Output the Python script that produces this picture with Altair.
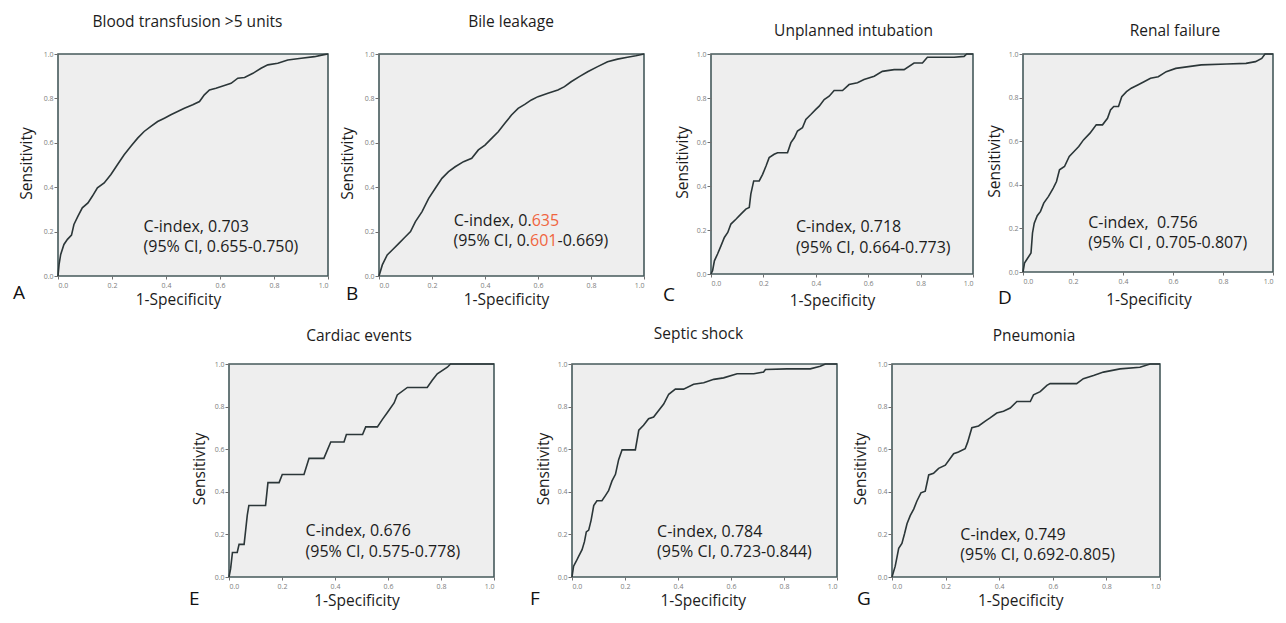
import altair as alt
import pandas as pd

FONT = "Open Sans"
INK = "#1c1c1c"
RED = "#F0653F"
LINE = "#2b3638"
FRAME = "#45595b"
PANEL = "#EEEEEE"
TICKS = [0.0, 0.2, 0.4, 0.6, 0.8, 1.0]

# ---------------- data ----------------
A_FPR = [0, .004, .01, .022, .035, .05, .059, .074, .09, .111, .127, .146, .171, .196, .22, .245, .27, .295, .319, .344,
         .369, .394, .418, .443, .468, .499, .524, .542, .561, .585, .616, .641, .666, .691, .722, .752, .777, .814, .851, .901,
         .95, .981, 1]
A_TPR = [0, .052, .097, .142, .165, .184, .232, .27, .307, .329, .359, .397, .419, .457, .501, .546, .584, .621, .651, .674,
         .696, .711, .726, .741, .756, .771, .786, .816, .838, .846, .858, .868, .891, .894, .913, .936, .951, .958, .973, .981,
         .988, .996, 1]

B_FPR = [0, .0125, .031, .05, .075, .094, .119, .1375, .1625, .1875, .2125, .2375, .2625, .2875, .319, .35, .375, .4, .425, .45,
         .475, .5, .525, .55, .575, .6, .6375, .675, .7, .725, .756, .7875, .825, .8625, .9, .9375, .969, 1]
B_TPR = [0, .05, .095, .117, .147, .17, .2, .245, .29, .35, .395, .44, .47, .492, .515, .53, .568, .59, .62, .65,
         .688, .725, .755, .773, .793, .808, .823, .838, .853, .875, .898, .92, .943, .965, .977, .985, .992, 1]

C_FPR = [0, .006, .013, .025, .038, .051, .064, .076, .095, .114, .133, .146, .152, .163, .184, .197, .21, .222, .241, .254,
         .292, .305, .318, .33, .349, .362, .381, .4, .413, .432, .451, .47, .502, .527, .559, .584, .623, .654, .699, .737,
         .775, .807, .826, .928, .966, .976, 1]
C_TPR = [0, .015, .06, .091, .128, .166, .189, .227, .249, .272, .295, .302, .363, .423, .423, .453, .491, .529, .544, .551,
         .551, .597, .619, .65, .665, .703, .725, .748, .763, .793, .808, .834, .834, .861, .869, .884, .899, .921, .929, .929,
         .959, .959, .985, .985, .989, 1, 1]

D_FPR = [0, .006, .019, .032, .038, .045, .057, .07, .083, .102, .121, .134, .146, .166, .185, .204, .223, .242, .268, .293,
         .318, .338, .35, .363, .382, .395, .414, .433, .459, .484, .51, .541, .573, .611, .662, .713, .815, .892, .93, .955,
         .968, 1]
D_TPR = [0, .041, .064, .087, .179, .224, .258, .278, .316, .347, .385, .415, .469, .484, .53, .553, .576, .606, .637, .675,
         .675, .705, .743, .759, .759, .804, .827, .843, .858, .873, .889, .896, .919, .934, .942, .95, .954, .957, .965, .98,
         1, 1]

E_FPR = [0, .006, .013, .031, .038, .057, .063, .069, .075, .138, .147, .189, .201, .283, .302, .358, .384, .434, .443, .504,
         .516, .56, .579, .597, .623, .635, .673, .748, .767, .786, .824, .836, 1]
E_TPR = [0, .038, .115, .115, .153, .153, .221, .29, .336, .336, .443, .443, .481, .481, .557, .557, .634, .634, .669, .669,
         .705, .705, .74, .771, .817, .855, .89, .89, .924, .954, .985, 1, 1]

F_FPR = [0, .006, .016, .025, .038, .047, .054, .063, .072, .082, .094, .113, .126, .138, .151, .164, .176, .189, .239, .252,
         .27, .289, .308, .327, .346, .365, .39, .421, .459, .497, .535, .572, .623, .686, .723, .73, .811, .899, .937, .956, 1]
F_TPR = [0, .051, .074, .097, .128, .166, .212, .22, .266, .335, .358, .358, .382, .405, .451, .482, .551, .597, .597, .689,
         .712, .743, .751, .782, .812, .858, .882, .882, .905, .912, .928, .935, .954, .954, .962, .974, .977, .977, .989, 1, 1]

G_FPR = [0, .012, .019, .025, .037, .047, .056, .068, .081, .093, .108, .124, .137, .155, .174, .199, .217, .23, .248, .273,
         .282, .298, .323, .348, .366, .391, .416, .441, .466, .516, .528, .553, .578, .59, .689, .714, .752, .789, .851, .925,
         .963, 1]
G_TPR = [0, .051, .096, .135, .158, .204, .25, .288, .319, .357, .395, .403, .479, .487, .51, .525, .556, .579, .587, .602,
         .632, .701, .709, .732, .747, .77, .778, .793, .824, .824, .855, .87, .9, .908, .908, .931, .946, .962, .977, .985,
         1, 1]

TITLES = {
    "A": "Blood transfusion >5 units",
    "B": "Bile leakage",
    "C": "Unplanned intubation",
    "D": "Renal failure",
    "E": "Cardiac events",
    "F": "Septic shock",
    "G": "Pneumonia",
}
NOTES = {
    "A": ["C-index, 0.703", "(95% CI, 0.655-0.750)"],
    "C": ["C-index, 0.718", "(95% CI, 0.664-0.773)"],
    "D": ["C-index,\u00a0 0.756", "(95% CI , 0.705-0.807)"],
    "E": ["C-index, 0.676", "(95% CI, 0.575-0.778)"],
    "F": ["C-index, 0.784", "(95% CI, 0.723-0.844)"],
    "G": ["C-index, 0.749", "(95% CI, 0.692-0.805)"],
}
# panel B has highlighted digits
B_HEAD = ["C-index, 0.", "(95% CI, 0."]
B_RED = ["635", "601"]
B_TAIL = ["-0.669)"]

CURVES = {"A": (A_FPR, A_TPR), "B": (B_FPR, B_TPR), "C": (C_FPR, C_TPR), "D": (D_FPR, D_TPR),
          "E": (E_FPR, E_TPR), "F": (F_FPR, F_TPR), "G": (G_FPR, G_TPR)}

# ---------------- layout ----------------
LAYOUT = {
    "A": dict(w=270, h=222, t_off=7.5, t_dx=-5.5, l_dx=-45, l_dy=23, y_tx=-32, x_tx=120, x_ty=28.7, nx=(0.317, 0.317), ny=0.199),
    "B": dict(w=265, h=222, t_off=7.5, t_dx=-0.5, l_dx=-33, l_dy=24, y_tx=-32, x_tx=127, x_ty=28.7, nx=(0.576, 0.570), ny=0.227),
    "C": dict(w=262, h=220, t_off=-1, t_dx=11.5, l_dx=-48, l_dy=27, y_tx=-29, x_tx=121, x_ty=31, nx=(0.324, 0.324), ny=0.19),
    "D": dict(w=250, h=218, t_off=-1.5, t_dx=27, l_dx=-25, l_dy=32, y_tx=-28.5, x_tx=125.5, x_ty=32, nx=(0.261, 0.261), ny=0.203),
    "E": dict(w=265, h=213, t_off=3.5, t_dx=-2.5, l_dx=-40, l_dy=28, y_tx=-30, x_tx=127.5, x_ty=28, nx=(0.289, 0.289), ny=0.192),
    "F": dict(w=265, h=213, t_off=6, t_dx=-6, l_dx=-42, l_dy=28, y_tx=-28.5, x_tx=130.8, x_ty=28, nx=(0.321, 0.321), ny=0.19),
    "G": dict(w=268, h=213, t_off=3.5, t_dx=8, l_dx=-35, l_dy=28, y_tx=-31.7, x_tx=128.3, x_ty=28, nx=(0.255, 0.255), ny=0.175),
}
NOTE_SIZE = 16
NOTE_LEAD = 20.5
DIGIT_W = 0.572 * NOTE_SIZE


def axis_common():
    return dict(values=TICKS, format=".1f", domain=False, grid=False, tickColor="#6f6f6f", tickWidth=1,
                labelFontSize=7, labelColor="#7d7d7d", labelFont=FONT, titleFont=FONT, titleFontSize=15.5,
                titleFontWeight="normal", titleColor=INK)


def panel(key):
    L = LAYOUT[key]
    w, h = L["w"], L["h"]
    fpr, tpr = CURVES[key]
    curve = pd.DataFrame({"fpr": fpr, "tpr": tpr, "step": list(range(len(fpr)))})
    x_enc = alt.X("fpr:Q", scale=alt.Scale(domain=[0, 1], nice=False, zero=False),
                  axis=alt.Axis(title="1-Specificity", tickSize=3, labelPadding=2, titleX=L["x_tx"],
                                titleY=L["x_ty"], titleBaseline="alphabetic", titleAlign="center", **axis_common()))
    y_enc = alt.Y("tpr:Q", scale=alt.Scale(domain=[0, 1], nice=False, zero=False),
                  axis=alt.Axis(title="Sensitivity", tickSize=4, labelPadding=1, titleX=L["y_tx"],
                                titleY=h / 2 - 2, titleBaseline="middle", titleAlign="center", **axis_common()))
    line = alt.Chart(curve).mark_line(color=LINE, strokeWidth=1.6, interpolate="linear").encode(
        x=x_enc, y=y_enc, order="step:Q")
    layers = [line]
    nx = L["nx"]
    ny = (L["ny"], L["ny"] - NOTE_LEAD / h)
    txt = dict(baseline="alphabetic", fontSize=NOTE_SIZE, font=FONT)
    if key == "B":
        head = pd.DataFrame({"fpr": list(nx), "tpr": list(ny), "t": B_HEAD})
        red = pd.DataFrame({"fpr": list(nx), "tpr": list(ny), "t": B_RED})
        tail = pd.DataFrame({"fpr": [nx[1]], "tpr": [ny[1]], "t": B_TAIL})
        layers.append(alt.Chart(head).mark_text(align="right", color=INK, **txt).encode(x=x_enc, y=y_enc, text="t:N"))
        layers.append(alt.Chart(red).mark_text(align="left", color=RED, **txt).encode(x=x_enc, y=y_enc, text="t:N"))
        layers.append(alt.Chart(tail).mark_text(align="left", color=INK, dx=3 * DIGIT_W, **txt).encode(
            x=x_enc, y=y_enc, text="t:N"))
    else:
        notes = pd.DataFrame({"fpr": list(nx), "tpr": list(ny), "t": NOTES[key]})
        layers.append(alt.Chart(notes).mark_text(align="left", color=INK, **txt).encode(x=x_enc, y=y_enc, text="t:N"))
    letter = alt.Chart(pd.DataFrame({"t": [key]})).mark_text(
        align="left", baseline="alphabetic", fontSize=19, font=FONT, color="#111111").encode(
        x=alt.value(L["l_dx"]), y=alt.value(h + L["l_dy"]), text="t:N")
    layers.append(letter)
    return alt.layer(*layers).properties(
        width=w, height=h,
        title=alt.TitleParams(text=TITLES[key], frame="group", anchor="middle", offset=L["t_off"], dx=L["t_dx"],
                              baseline="alphabetic", fontSize=15.5, fontWeight="normal", color=INK, font=FONT))


def spacer(w):
    return alt.Chart(pd.DataFrame({"v": [0]})).mark_point(size=0, opacity=0).encode(
        x=alt.value(0), y=alt.value(0)).properties(
        width=w, height=10, view=alt.ViewBackground(fill="transparent", stroke="transparent"))


row1 = alt.hconcat(panel("A"), spacer(41), panel("B"), spacer(57), panel("C"), spacer(40), panel("D"),
                   spacing=5, bounds="flush")
row2 = alt.hconcat(spacer(166), panel("E"), spacer(68), panel("F"), spacer(45), panel("G"),
                   spacing=5, bounds="flush")

chart = alt.vconcat(row1, row2, spacing=15).properties(
    padding={"left": 4, "top": 6, "right": 0, "bottom": 0}, background="white"
).configure(font=FONT).configure_view(fill=PANEL, stroke=FRAME, strokeWidth=1.6)

chart.save("out.html", embed_options={"renderer": "svg", "actions": False})
